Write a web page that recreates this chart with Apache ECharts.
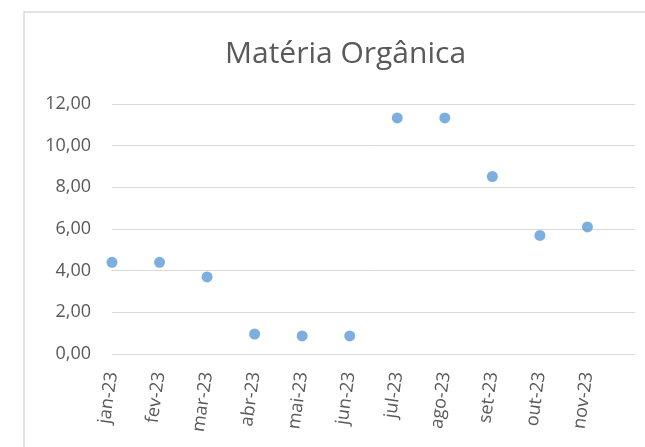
<!DOCTYPE html>
<html>
<head>
<meta charset="utf-8">
<script src="https://cdn.jsdelivr.net/npm/echarts@6/dist/echarts.min.js"></script>
<style>
  html, body { margin: 0; padding: 0; background: #fff; }
  #main { width: 645px; height: 447px; }
</style>
</head>
<body>
<div id="main"></div>
<script>
// meses no eixo x (pontos ficam sobre as marcas)
const months = ['jan-23', 'fev-23', 'mar-23', 'abr-23', 'mai-23', 'jun-23', 'jul-23', 'ago-23', 'set-23', 'out-23', 'nov-23']
const materiaOrganica = [4.4, 4.4, 3.7, 0.96, 0.87, 0.87, 11.33, 11.33, 8.52, 5.69, 6.1]
const yTicks = [0, 2, 4, 6, 8, 10, 12]

const myChart = echarts.init(document.getElementById('main'))
const textColor = '#595959'
const font = 'Open Sans'

const option = {
  animation: false,
  textStyle: { fontFamily: font },
  title: {
    text: 'Matéria Orgânica',
    left: 220,
    top: 34,
    textStyle: { fontSize: 30, fontWeight: 'normal', color: textColor, fontFamily: font }
  },
  graphic: [{
    type: 'rect',
    shape: { x: 24, y: 12, width: 700, height: 500 },
    style: { fill: 'none', stroke: '#d9d9d9', lineWidth: 1.5 },
    silent: true
  }],
  grid: { left: 112, right: 10, top: 104, bottom: 93 },
  xAxis: {
    type: 'value',
    min: 0,
    max: months.length,
    interval: 1,
    axisLine: { show: false },
    axisTick: { show: false },
    splitLine: { show: false },
    axisLabel: {
      rotate: 82,
      margin: 18,
      fontSize: 18,
      color: textColor,
      formatter: (v) => months[v] || ''
    }
  },
  yAxis: {
    type: 'value',
    min: yTicks[0],
    max: yTicks[yTicks.length - 1],
    interval: 2,
    axisLine: { show: false },
    axisTick: { show: false },
    splitLine: { lineStyle: { color: '#d9d9d9', width: 1 } },
    axisLabel: {
      margin: 21,
      fontSize: 18,
      color: textColor,
      formatter: (v) => v.toFixed(2).replace('.', ',')
    }
  },
  series: [{
    type: 'scatter',
    symbolSize: 11,
    itemStyle: { color: '#5B9BD5' },
    data: materiaOrganica.map((v, i) => [i, v])
  }]
}

myChart.setOption(option)
</script>
</body>
</html>
